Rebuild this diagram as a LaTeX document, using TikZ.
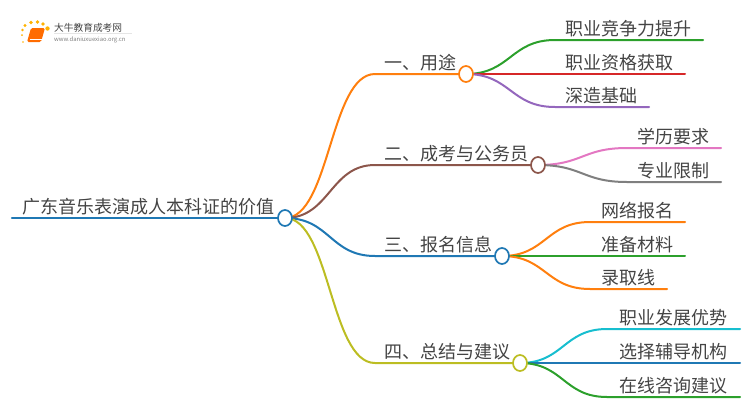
\documentclass[tikz,border=0pt]{standalone}
\usepackage{fontspec}
\setmainfont{Noto Sans CJK SC}
\usetikzlibrary{shapes.geometric,calc}
\definecolor{txt}{HTML}{444444}
\definecolor{cblue}{HTML}{1F78B4}
\definecolor{corange}{HTML}{FF7F0E}
\definecolor{cbrown}{HTML}{8C564B}
\definecolor{colive}{HTML}{BCBD22}
\definecolor{cgreen}{HTML}{2CA02C}
\definecolor{cred}{HTML}{D62728}
\definecolor{cpurple}{HTML}{9467BD}
\definecolor{cpink}{HTML}{E377C2}
\definecolor{cgray}{HTML}{7F7F7F}
\definecolor{ccyan}{HTML}{17BECF}
\tikzset{
  x=1pt,y=-1pt,
  lbl/.style={anchor=base west,inner sep=0pt,text=txt,font=\fontsize{18}{18}\selectfont},
  hub/.style={draw=#1,fill=white,line width=1.7pt,ellipse,minimum width=14pt,minimum height=16pt,inner sep=0pt},
  conn/.style={draw=#1,line width=2pt,line cap=round},
}
\newcommand{\link}[5]{% color, from, mid x, y, end x
  \coordinate (lnE) at (#3,#4);
  \coordinate (lnM) at ($(#2)!0.5!(lnE)$);
  \draw[conn=#1] (#2) .. controls (lnM |- #2) and (lnM |- lnE) .. (lnE) -- (#5,#4);}
\begin{document}
\begin{tikzpicture}
\useasboundingbox (0,0) rectangle (750,410);
\coordinate (rootc) at (285,218);
\coordinate (ac) at (466,74);
\coordinate (bc) at (538,165);
\coordinate (cc) at (502,256);
\coordinate (dc) at (520,363);
\coordinate (rootstart) at (12,218);
\draw[conn=cblue,line width=2.4pt] (rootstart) -- (rootc);
\link{corange}{rootc}{375}{74}{466}
\link{cbrown}{rootc}{375}{165}{538}
\link{cblue}{rootc}{375}{256}{502}
\link{colive}{rootc}{375}{363}{520}
\link{cgreen}{ac}{555}{40}{703}
\link{cred}{ac}{555}{74}{685}
\link{cpurple}{ac}{555}{107}{649}
\link{cpink}{bc}{627}{148}{721}
\link{cgray}{bc}{627}{182}{721}
\link{corange}{cc}{590}{222}{685}
\link{cgreen}{cc}{590}{256}{685}
\link{corange}{cc}{590}{289}{667}
\link{ccyan}{dc}{607}{329}{740}
\link{cblue}{dc}{607}{363}{740}
\link{cgreen}{dc}{607}{397}{740}
\node[hub=cblue] (root) at (rootc) {};
\node[hub=corange] (a) at (ac) {};
\node[hub=cbrown] (b) at (bc) {};
\node[hub=cblue] (c) at (cc) {};
\node[hub=colive] (d) at (dc) {};
\node[lbl] (t0) at (22,213) {广东音乐表演成人本科证的价值};
\node[lbl] (t1) at (384,69) {一、用途};
\node[lbl] (t2) at (384,160) {二、成考与公务员};
\node[lbl] (t3) at (384,251) {三、报名信息};
\node[lbl] (t4) at (384,358) {四、总结与建议};
\node[lbl] at (565,35) {职业竞争力提升};
\node[lbl] at (565,69) {职业资格获取};
\node[lbl] at (565,102) {深造基础};
\node[lbl] at (637,143) {学历要求};
\node[lbl] at (637,177) {专业限制};
\node[lbl] at (601,217) {网络报名};
\node[lbl] at (601,251) {准备材料};
\node[lbl] at (601,284) {录取线};
\node[lbl] at (619,324) {职业发展优势};
\node[lbl] at (619,358) {选择辅导机构};
\node[lbl] at (619,392) {在线咨询建议};
% logo
\fill[orange!85!red,rounded corners=1.5pt] (31,28) -- (45,28) -- (41,42) -- (27,42) -- cycle;
\draw[white,line width=0.5pt] (29.5,39.5) -- (41.5,39.5);
\foreach \p/\r in {{22,35}/1,{22.5,30}/1.3,{25,25.5}/1.6,{31,22.5}/1.8,{37.5,22}/1.8,{43,24}/1.8,{47.5,28.5}/2.2,{23,42}/0.8}
  \fill[orange!60!yellow] (\p) circle (\r);
\node[anchor=base west,inner sep=0pt,text=txt,font=\fontsize{9.7}{10}\selectfont] (lt) at (54,31) {大牛教育成考网};
\node[anchor=base west,inner sep=0pt,text=gray,font=\fontsize{5.9}{6}\selectfont] (lu) at (54,41) {www.daniuxuexiao.org.cn};
\draw[black!10,line width=0.4pt] (54,33.5) -- (132,33.5);
\end{tikzpicture}
\end{document}
